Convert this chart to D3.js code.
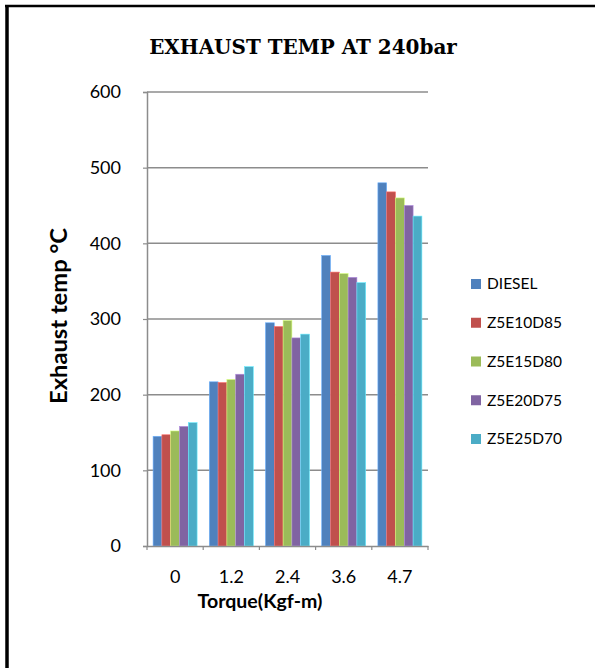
<!DOCTYPE html>
<html>
<head>
<meta charset="utf-8">
<script src="https://cdn.jsdelivr.net/npm/d3@7"></script>
<style>
  html, body { margin: 0; padding: 0; background: #fff; }
  svg { display: block; }
</style>
</head>
<body>
<svg id="chart" width="595" height="668"></svg>
<script>
// Exhaust temperature readings per torque step, one array per fuel blend
const torqueLabels = ["0", "1.2", "2.4", "3.6", "4.7"];
const seriesNames = ["DIESEL", "Z5E10D85", "Z5E15D80", "Z5E20D75", "Z5E25D70"];
const diesel   = [145, 217, 295, 384, 480];
const z5e10d85 = [147, 216, 290, 362, 468];
const z5e15d80 = [152, 220, 298, 360, 460];
const z5e20d75 = [158, 227, 275, 355, 450];
const z5e25d70 = [163, 237, 280, 348, 436];
const yTicks = [0, 100, 200, 300, 400, 500, 600];
const seriesColors = ["#4F81BD", "#C0504D", "#9BBB59", "#8064A2", "#4BACC6"];

const seriesValues = [diesel, z5e10d85, z5e15d80, z5e20d75, z5e25d70];
const series = seriesNames.map((name, i) => ({ name, values: seriesValues[i], color: seriesColors[i] }));

const svg = d3.select("#chart");
const font = "Lato, 'Open Sans', sans-serif";

// scale a text element's font size so that it spans the given width
function fitWidth(sel, width) {
  const node = sel.node();
  const size = parseFloat(sel.attr("font-size"));
  const w = node.getComputedTextLength();
  if (w > 0) sel.attr("font-size", size * width / w);
}

// outer frame edges (left and top)
svg.append("line").attr("x1", 7).attr("x2", 7).attr("y1", 5).attr("y2", 668)
  .attr("stroke", "#000").attr("stroke-width", 3.5);
svg.append("line").attr("x1", 5).attr("x2", 595).attr("y1", 6).attr("y2", 6)
  .attr("stroke", "#000").attr("stroke-width", 2.5);

const plot = { left: 147, right: 428, top: 92, bottom: 546 };

const x = d3.scaleBand().domain(torqueLabels)
  .range([plot.left, plot.right]).paddingInner(0.217).paddingOuter(0.1085);
const xInner = d3.scaleBand().domain(seriesNames).range([0, x.bandwidth()]);
const y = d3.scaleLinear().domain([0, 600]).range([plot.bottom, plot.top]);

// gridlines
svg.append("g").selectAll("line").data(yTicks.filter(t => t > 0)).join("line")
  .attr("x1", plot.left).attr("x2", plot.right)
  .attr("y1", d => y(d)).attr("y2", d => y(d))
  .attr("stroke", "#8c8c8c").attr("stroke-width", 1.5);

// bars
const groups = svg.append("g").selectAll("g").data(torqueLabels).join("g")
  .attr("transform", d => `translate(${x(d)},0)`);
groups.selectAll("rect")
  .data((d, gi) => series.map(s => ({ name: s.name, color: s.color, value: s.values[gi] })))
  .join("rect")
  .attr("x", d => xInner(d.name))
  .attr("width", xInner.bandwidth())
  .attr("y", d => y(d.value))
  .attr("height", d => y(0) - y(d.value))
  .attr("fill", d => d.color)
  .attr("stroke", d => d3.color(d.color).brighter(0.9))
  .attr("stroke-width", 0.6);

// y axis
const yAxis = d3.axisLeft(y).tickValues(yTicks).tickSize(4).tickPadding(22);
const yg = svg.append("g").attr("transform", `translate(${plot.left},0)`).call(yAxis);
yg.select(".domain").attr("stroke", "#8c8c8c").attr("stroke-width", 1.5);
yg.selectAll(".tick line").attr("stroke", "#8c8c8c").attr("stroke-width", 1.2);
yg.selectAll(".tick text").attr("font-family", font).attr("font-size", 18).attr("fill", "#000");

// x axis
const xAxis = d3.axisBottom(x).tickSize(0).tickPadding(24);
const xg = svg.append("g").attr("transform", `translate(0,${plot.bottom})`).call(xAxis);
xg.select(".domain").attr("stroke", "#8c8c8c").attr("stroke-width", 1.5);
xg.selectAll(".tick text").attr("font-family", font).attr("font-size", 18).attr("fill", "#000");
// category boundary ticks
const step = x.step();
xg.append("g").selectAll("line").data(d3.range(torqueLabels.length + 1)).join("line")
  .attr("x1", i => plot.left + i * step).attr("x2", i => plot.left + i * step)
  .attr("y1", 0).attr("y2", 4)
  .attr("stroke", "#8c8c8c").attr("stroke-width", 1.2);

// title
const title = svg.append("text").attr("x", 303).attr("y", 54).attr("text-anchor", "middle")
  .attr("font-family", "'DejaVu Serif', serif").attr("font-weight", "bold")
  .attr("font-size", 17).attr("fill", "#000")
  .text("EXHAUST TEMP AT 240bar");
fitWidth(title, 308);

// axis titles
const yTitle = svg.append("text").attr("transform", "translate(67,316) rotate(-90)")
  .attr("text-anchor", "middle").attr("font-family", font).attr("font-weight", "bold")
  .attr("font-size", 20).attr("fill", "#000").text("Exhaust temp °C");
fitWidth(yTitle, 176);
const xTitle = svg.append("text").attr("x", 260).attr("y", 608).attr("text-anchor", "middle")
  .attr("font-family", font).attr("font-weight", "bold")
  .attr("font-size", 19).attr("fill", "#000").text("Torque(Kgf-m)");
fitWidth(xTitle, 125);

// legend
const legend = svg.append("g").selectAll("g").data(series).join("g")
  .attr("transform", (d, i) => `translate(471,${284 + i * 38.75})`);
legend.append("rect").attr("x", 0).attr("y", -5).attr("width", 10).attr("height", 10)
  .attr("fill", d => d.color);
legend.append("text").attr("x", 16).attr("y", 0).attr("dy", "0.35em")
  .attr("font-family", font).attr("font-size", 15.5).attr("fill", "#000")
  .text(d => d.name);
</script>
</body>
</html>
